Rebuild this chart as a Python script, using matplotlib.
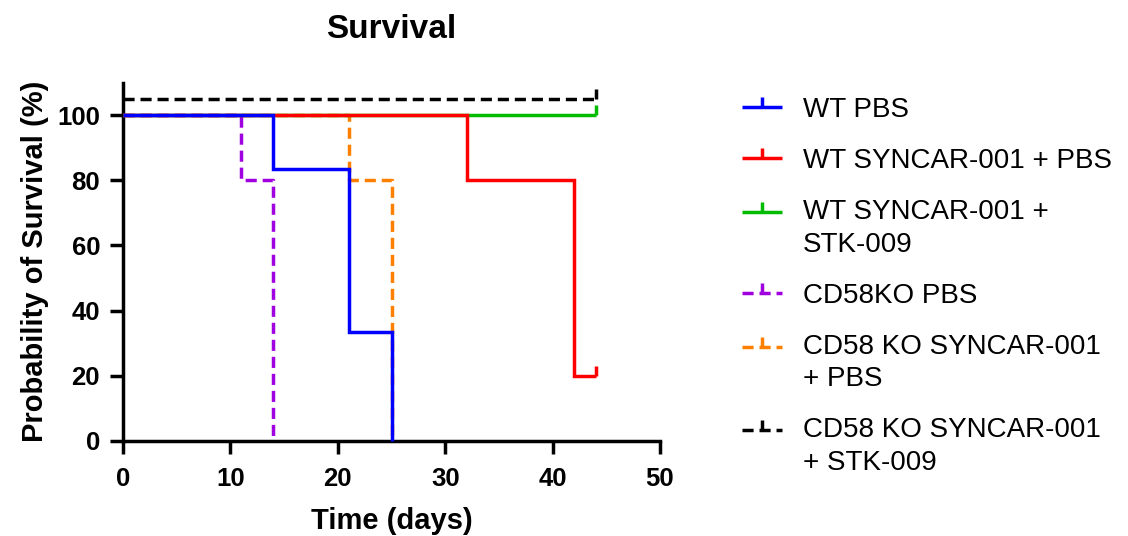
import matplotlib
matplotlib.use('Agg')
import matplotlib.pyplot as plt
from matplotlib.path import Path
from matplotlib.lines import Line2D
from matplotlib.legend_handler import HandlerLine2D
from matplotlib.transforms import Affine2D

plt.rcParams['font.family'] = ['Liberation Sans', 'DejaVu Sans']

# ---------------- data ----------------
labels = ["WT PBS", "WT SYNCAR-001 + PBS", "WT SYNCAR-001 +\nSTK-009",
          "CD58KO PBS", "CD58 KO SYNCAR-001\n+ PBS", "CD58 KO SYNCAR-001\n+ STK-009"]
colors = ["#0000FF", "#FF0000", "#00BB00", "#A000E0", "#FF8000", "#000000"]

wt_pbs_t = [0, 14, 21, 25]
wt_pbs_s = [100, 83.33, 33.33, 0]
wt_syn_pbs_t = [0, 32, 42, 44]
wt_syn_pbs_s = [100, 80, 20, 20]
wt_syn_stk_t = [0, 44]
wt_syn_stk_s = [100, 100]
ko_pbs_t = [0, 11, 14]
ko_pbs_s = [100, 80, 0]
ko_syn_pbs_t = [0, 21, 25]
ko_syn_pbs_s = [100, 80, 0]
ko_syn_stk_t = [0, 44]
ko_syn_stk_s = [100, 100]

# censored observations (time, survival) per group; None = no censoring
censor_t = [None, 44, 44, None, None, 44]
censor_s = [None, 20, 100, None, None, 100]

# Prism nudges overlapping curves apart
display_offset = [0, 0, 0, 0, 0, 5]

times = [wt_pbs_t, wt_syn_pbs_t, wt_syn_stk_t, ko_pbs_t, ko_syn_pbs_t, ko_syn_stk_t]
surv = [wt_pbs_s, wt_syn_pbs_s, wt_syn_stk_s, ko_pbs_s, ko_syn_pbs_s, ko_syn_stk_s]
dashed = [False, False, False, True, True, True]
zorders = [8, 7, 6, 5, 4, 3]

x_ticks = [0, 10, 20, 30, 40, 50]
y_ticks = [0, 20, 40, 60, 80, 100]

# ---------------- figure ----------------
fig = plt.figure(figsize=(11.28, 5.36), dpi=100)
ax = fig.add_axes([123 / 1128, 95 / 536, 537 / 1128, (441 - 82.5) / 536])

LW = 2.5
DASH = (3.2, 1.7)
tick_marker = Path([(0, 0), (0, 1)], [Path.MOVETO, Path.LINETO])

handles = []
for i in range(len(labels)):
    ys = [v + display_offset[i] for v in surv[i]]
    ls = (0, DASH) if dashed[i] else '-'
    ax.step(times[i], ys, where='post', color=colors[i], lw=LW, ls=ls,
            zorder=zorders[i], clip_on=False, solid_capstyle='butt',
            dash_capstyle='butt', solid_joinstyle='miter')
    if censor_t[i] is not None:
        ax.plot([censor_t[i]], [censor_s[i] + display_offset[i]], ls='none',
                marker=tick_marker, ms=14, mew=LW, mec=colors[i],
                zorder=zorders[i], clip_on=False)
    handles.append(Line2D([], [], color=colors[i], lw=LW, ls=ls,
                          marker=tick_marker, ms=14, mew=LW, mec=colors[i],
                          dash_capstyle='butt', solid_capstyle='butt'))

ax.set_xlim(0, 50)
ax.set_ylim(0, 110)
ax.set_xticks(x_ticks)
ax.set_yticks(y_ticks)
for s in ['top', 'right']:
    ax.spines[s].set_visible(False)
for s in ['left', 'bottom']:
    ax.spines[s].set_linewidth(LW)
ax.spines['left'].set_bounds(0, 110)
ax.tick_params(axis='both', length=9.5, width=LW, labelsize=18.5)
ax.tick_params(axis='x', pad=9.5)
ax.tick_params(axis='y', pad=7)
for lab in ax.get_xticklabels() + ax.get_yticklabels():
    lab.set_fontweight('bold')

ax.set_xlabel("Time (days)", fontsize=21, fontweight='bold', labelpad=11)
ax.set_ylabel("Probability of Survival (%)", fontsize=21, fontweight='bold', labelpad=6)
ax.set_title("Survival", fontsize=24, fontweight='bold', pad=32)


class ShiftedHandler(HandlerLine2D):
    def __init__(self, shift=0.0, **kw):
        super().__init__(**kw)
        self.shift = shift

    def create_artists(self, legend, orig_handle, xdescent, ydescent,
                       width, height, fontsize, trans):
        t = Affine2D().translate(0, self.shift) + trans
        return super().create_artists(legend, orig_handle, xdescent, ydescent,
                                      width, height, fontsize, t)


LEG_FS = 20
LINE_SP = 1.33
handler_map = {}
for h, lab in zip(handles, labels):
    nl = lab.count('\n')
    handler_map[h] = ShiftedHandler(shift=nl * 16.5 * 0.72, numpoints=1)

leg = fig.legend(handles, labels, handler_map=handler_map, loc='upper left',
                 bbox_to_anchor=(742 / 1128, 1 - 97 / 536), frameon=False,
                 fontsize=LEG_FS, borderpad=0, borderaxespad=0, handlelength=1.45,
                 handletextpad=0.75, labelspacing=0.9, numpoints=1)
for t in leg.get_texts():
    t.set_linespacing(LINE_SP)

fig.savefig("out.png", dpi=100)
